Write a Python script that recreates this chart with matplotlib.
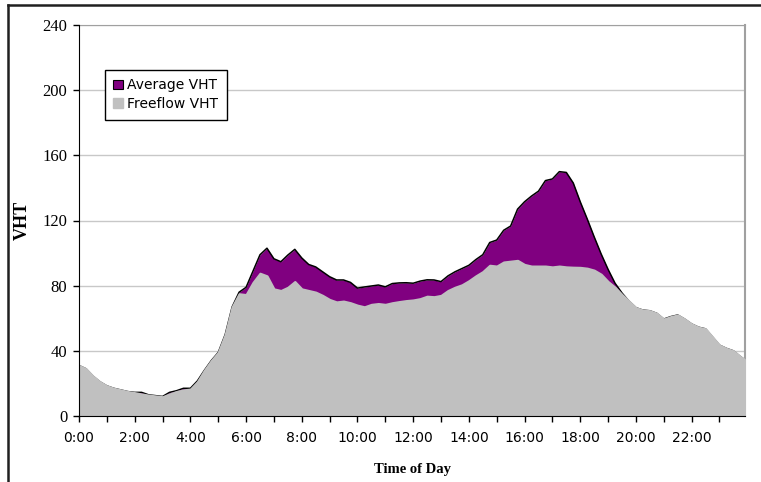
import numpy as np
from matplotlib import pyplot as plt
from matplotlib.lines import Line2D
from matplotlib.patches import Patch

# time of day in hours (15 min steps, last sample at 23:55)
hours = list(np.arange(0, 24, 0.25)) + [23 + 55 / 60]

freeflow_vht = [
    31, 29, 24.5, 21, 18.5, 17, 16, 15,
    14.3, 13.5, 12.8, 12.3, 11.8, 13.5, 15, 16,
    16.5, 21, 28, 34, 39, 50, 67, 75,
    74.5, 82, 87.6, 86, 78, 77, 79, 82.5,
    78, 77, 76, 74, 71.5, 70, 70.5, 69.5,
    68, 67, 68.5, 69, 68.5, 69.5, 70.2, 70.8,
    71.2, 72, 73.5, 73.2, 74, 77, 79, 80.5,
    83, 86, 88.6, 92.5, 92, 94.5, 95, 95.5,
    93, 92, 92, 92, 91.5, 92, 91.5, 91.3,
    91.2, 90.7, 89.5, 87, 82.5, 79, 74.5, 70.5,
    66.5, 65, 64.6, 63, 59.5, 61, 62, 59.5,
    56.5, 54.5, 53.5, 48.5, 43.5, 41.5, 40, 36.5,
    34.4,
]

average_vht = [
    31, 29, 24.5, 21, 18.5, 17, 16, 15,
    14.5, 14.5, 13, 12.5, 12, 14.5, 15.5, 17,
    17, 21.5, 28, 34, 39, 50, 67, 76,
    79, 89, 99, 103, 96.5, 94.7, 98.8, 102.3,
    97, 93, 91.5, 88.5, 85.5, 83.5, 83.5, 82,
    78.5, 79.2, 79.8, 80.4, 79.3, 81.3, 81.7, 81.8,
    81.5, 82.8, 83.6, 83.5, 82.5, 86, 88.5, 90.5,
    92.5, 96, 99, 106.5, 108, 114, 116.6, 127,
    131.5, 135, 138, 144.5, 145.5, 150, 149.5, 143,
    131.5, 121, 110, 99.5, 90, 81.5, 75.5, 70.5,
    66.5, 65, 64.6, 63, 59.5, 61, 62, 59.5,
    56.5, 54.5, 53.5, 48.5, 43.5, 41.5, 40, 36.5,
    34.4,
]

tick_hours = list(range(0, 24))
tick_labels = [f'{h}:00' if h % 2 == 0 else '' for h in tick_hours]
y_ticks = [0, 40, 80, 120, 160, 200, 240]

purple = '#800080'
gray = '#C0C0C0'

fig = plt.figure(figsize=(7.61, 4.82), dpi=100)
ax = fig.add_axes([79 / 761, 66 / 482, 666 / 761, 391 / 482])

ax.fill_between(hours, 0, average_vht, color=purple, linewidth=0, zorder=2)
ax.plot(hours, average_vht, color='black', linewidth=1.1, zorder=2)
# freeflow drawn on top, its own edge hides the black outline where both agree
ax.fill_between(hours, 0, freeflow_vht, facecolor=gray, edgecolor=gray, linewidth=1.6, zorder=3)

ax.set_xlim(0, hours[-1])
ax.set_ylim(0, 240)
ax.set_yticks(y_ticks)
ax.set_xticks(tick_hours)
ax.set_xticklabels(tick_labels, fontsize=10, family='DejaVu Sans')
ax.set_yticklabels([str(v) for v in y_ticks], fontsize=12, family='Liberation Serif')
ax.tick_params(axis='both', direction='out', length=4.5, width=1, colors='black', pad=4)
ax.tick_params(axis='x', pad=6)

ax.grid(axis='y', color='#C8C8C8', linewidth=1, zorder=0)
ax.set_axisbelow(True)

ax.spines['left'].set_color('black')
ax.spines['left'].set_zorder(5)
ax.spines['bottom'].set_color('black')
ax.spines['bottom'].set_zorder(5)
ax.spines['top'].set_color('#A0A0A0')
ax.spines['right'].set_color('#A0A0A0')
ax.spines['right'].set_linewidth(1.5)

ax.set_ylabel('VHT', fontsize=13, family='Liberation Serif', fontweight='bold', va='center')
ax.set_xlabel('Time of Day', fontsize=10.5, family='Liberation Serif', fontweight='bold', va='center')
ax.yaxis.set_label_coords((22 - 79) / 666, 0.5)
ax.xaxis.set_label_coords((412 - 79) / 666, (416 - 470) / 391)

legend_elements = [
    Patch(facecolor=purple, edgecolor='black', linewidth=0.8, label='Average VHT'),
    Patch(facecolor=gray, edgecolor=gray, label='Freeflow VHT'),
]
leg = ax.legend(handles=legend_elements, loc='upper left',
                bbox_to_anchor=((105 - 79) / 666, (416 - 70) / 391),
                fancybox=False, framealpha=1, edgecolor='black',
                prop={'family': 'DejaVu Sans', 'size': 10},
                handlelength=0.7, handleheight=0.7, handletextpad=0.3,
                borderpad=0.6, labelspacing=0.35, borderaxespad=0)
leg.get_frame().set_linewidth(1)

# outer chart frame (left and top edges visible)
fig.add_artist(Line2D([8 / 761, 8 / 761], [0, 1 - 5 / 482], color='#202020', linewidth=1.8))
fig.add_artist(Line2D([8 / 761, 1], [1 - 5 / 482, 1 - 5 / 482], color='#202020', linewidth=1.8))

fig.savefig('out.png', dpi=100)
